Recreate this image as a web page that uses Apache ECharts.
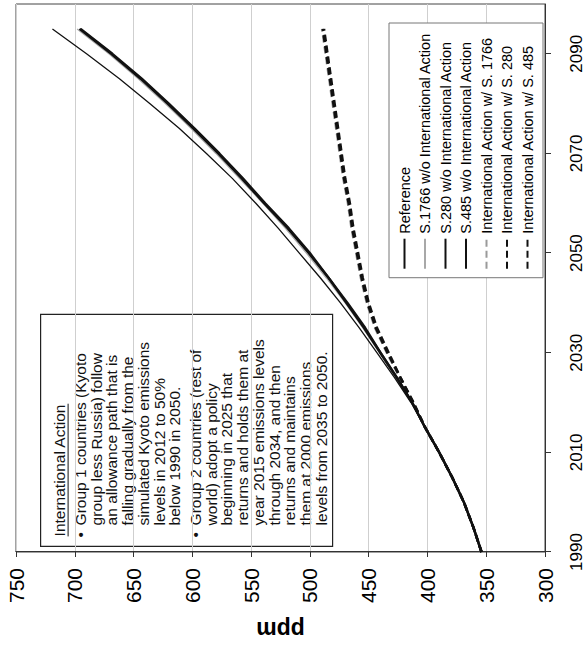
<!DOCTYPE html>
<html>
<head>
<meta charset="utf-8">
<title>CO2 concentration scenarios</title>
<script src="https://cdn.jsdelivr.net/npm/echarts@6/dist/echarts.min.js"></script>
<style>
  html, body { margin: 0; padding: 0; background: #fff; overflow: hidden; width: 585px; height: 649px; }
  /* The chart is laid out landscape and turned a quarter turn counter-clockwise onto the portrait page. */
  #chart {
    position: absolute; left: 0; top: 0;
    width: 649px; height: 585px;
    transform-origin: 0 0;
    transform: translate(0, 649px) rotate(-90deg);
  }
</style>
</head>
<body>
<div id="chart"></div>
<script>
// Atmospheric CO2 concentration (ppm), 1990-2095, five-year steps
const years = [1990, 1995, 2000, 2005, 2010, 2015, 2020, 2025, 2030, 2035, 2040,
               2045, 2050, 2055, 2060, 2065, 2070, 2075, 2080, 2085, 2090, 2095];

const reference  = [354, 361, 369, 379, 390, 402, 414, 428, 443, 458, 474,
                    491, 509, 527, 546, 566, 588, 611, 636, 662, 690, 719];
const s1766NoIntl = [354, 361, 369, 379, 390, 402, 413, 427, 441, 455, 470,
                    486, 503, 521, 540, 560, 580, 601, 623, 646, 671, 698];
const s280NoIntl  = [354, 361, 369, 379, 390, 402, 413, 426, 440, 454, 469,
                    484, 501, 519, 539, 558, 578, 599, 621, 644, 669, 696];
const s485NoIntl  = [354, 361, 369, 379, 390, 402, 413, 426, 440, 453, 468,
                    484, 500, 518, 538, 557, 577, 598, 620, 643, 668, 695];
const intlS1766   = [354, 361, 369, 379, 390, 402, 412, 424, 435, 445, 452,
                    457, 461, 465, 468, 472, 475, 478, 481, 484, 487, 490];
const intlS280    = [354, 361, 369, 379, 390, 402, 412, 423, 434, 444, 451,
                    456, 460, 464, 467, 471, 474, 477, 480, 483, 486, 489];
const intlS485    = [354, 361, 369, 379, 390, 402, 412, 423, 433, 443, 450,
                    455, 459, 463, 466, 470, 473, 476, 479, 482, 485, 488];

// Axis ranges
const yearMin = 1990, yearMax = 2100, yearStep = 20;
const ppmMin = 300, ppmMax = 750, ppmStep = 50;

const seriesNames = [
  'Reference',
  'S.1766 w/o International Action',
  'S.280 w/o International Action',
  'S.485 w/o International Action',
  'International Action w/ S. 1766',
  'International Action w/ S. 280',
  'International Action w/ S. 485'
];

const noteTitle = 'International Action';
const noteGroup1 = ['Group 1 countries (Kyoto', 'group less Russia) follow', 'an allowance path that is',
  'falling gradually from the', 'simulated Kyoto emissions', 'levels in 2012 to 50%', 'below 1990 in 2050.'];
const noteGroup2 = ['Group 2 countries (rest of', 'world) adopt a policy', 'beginning in 2025 that',
  'returns and holds them at', 'year 2015 emissions levels', 'through 2034, and then',
  'returns and maintains', 'them at 2000 emissions', 'levels from 2035 to 2050.'];

const FONT = "'Liberation Sans', Arial, Helvetica, sans-serif";

function pairs(values) {
  return years.map((y, i) => [y, values[i]]);
}

function lineSeries(name, values, color, width, type, z) {
  return {
    name: name,
    type: 'line',
    data: pairs(values),
    symbol: 'none',
    smooth: false,
    z: z,
    lineStyle: { color: color, width: width, type: type },
    itemStyle: { color: color },
    emphasis: { disabled: true }
  };
}

// width of the note title, for its underline
const measureCtx = document.createElement('canvas').getContext('2d');
const noteFontSize = 15.5;
measureCtx.font = noteFontSize + 'px ' + FONT;
const titleWidth = measureCtx.measureText(noteTitle).width;

const lineH = 15.75;
const noteChildren = [
  { type: 'rect', shape: { x: 0, y: 0, width: 232, height: 292 },
    style: { fill: '#fff', stroke: '#222', lineWidth: 1.2 } },
  { type: 'text', x: 10, y: 11,
    style: { text: noteTitle, font: noteFontSize + 'px ' + FONT, fill: '#111' } },
  { type: 'line', shape: { x1: 10, y1: 11 + noteFontSize + 1, x2: 10 + titleWidth, y2: 11 + noteFontSize + 1 },
    style: { stroke: '#111', lineWidth: 1 } },
  { type: 'text', x: 9, y: 32,
    style: { text: '\u2022', font: noteFontSize + 'px ' + FONT, fill: '#111' } },
  { type: 'text', x: 21, y: 32,
    style: { text: noteGroup1.join('\n'), font: noteFontSize + 'px ' + FONT, lineHeight: lineH, fill: '#111' } },
  { type: 'text', x: 9, y: 147,
    style: { text: '\u2022', font: noteFontSize + 'px ' + FONT, fill: '#111' } },
  { type: 'text', x: 21, y: 147,
    style: { text: noteGroup2.join('\n'), font: noteFontSize + 'px ' + FONT, lineHeight: lineH, fill: '#111' } }
];

const chart = echarts.init(document.getElementById('chart'), null, { renderer: 'svg', width: 649, height: 585 });

chart.setOption({
  animation: false,
  backgroundColor: '#fff',
  textStyle: { fontFamily: FONT, color: '#000' },
  grid: {
    left: 87, right: 4, top: 16, bottom: 37,
    show: true, borderColor: '#444', borderWidth: 1, backgroundColor: 'transparent'
  },
  xAxis: {
    type: 'value',
    min: yearMin, max: yearMax, interval: yearStep,
    axisLine: { show: true, lineStyle: { color: '#333', width: 1 } },
    axisTick: { show: true, inside: false, length: 6, lineStyle: { color: '#333' } },
    axisLabel: { fontSize: 17, color: '#000', margin: 23, fontFamily: FONT,
                 formatter: v => String(v), showMaxLabel: false },
    splitLine: { show: false }
  },
  yAxis: {
    type: 'value',
    min: ppmMin, max: ppmMax, interval: ppmStep,
    name: 'ppm',
    nameLocation: 'middle',
    nameGap: 66,
    nameTextStyle: { fontSize: 23, fontWeight: 'bold', color: '#000', fontFamily: FONT },
    axisLine: { show: true, lineStyle: { color: '#333', width: 1 } },
    axisTick: { show: true, inside: false, length: 5, lineStyle: { color: '#333' } },
    axisLabel: { fontSize: 21, color: '#000', margin: 16, fontFamily: FONT },
    splitLine: { show: true, lineStyle: { color: '#cfcfcf', width: 1 } }
  },
  legend: {
    orient: 'vertical',
    right: 23,
    bottom: 42,
    backgroundColor: '#fff',
    borderColor: '#777',
    borderWidth: 1,
    padding: [8, 10, 8, 8],
    itemWidth: 30,
    itemHeight: 12,
    itemGap: 5.5,
    selectedMode: false,
    itemStyle: { opacity: 0 },
    textStyle: { fontSize: 14.5, color: '#000', fontFamily: FONT },
    data: seriesNames
  },
  graphic: [
    { type: 'group', left: 102, top: 40, z: 100, children: noteChildren }
  ],
  series: [
    lineSeries(seriesNames[4], intlS1766, '#9a9a9a', 1.6, [7, 4], 2),
    lineSeries(seriesNames[1], s1766NoIntl, '#a8a8a8', 1.2, 'solid', 2),
    lineSeries(seriesNames[0], reference, '#111', 1.3, 'solid', 3),
    lineSeries(seriesNames[2], s280NoIntl, '#111', 2.4, 'solid', 3),
    lineSeries(seriesNames[3], s485NoIntl, '#111', 2.4, 'solid', 3),
    lineSeries(seriesNames[5], intlS280, '#111', 2.6, [7, 4], 3),
    lineSeries(seriesNames[6], intlS485, '#111', 2.6, [7, 4], 3)
  ]
});
</script>
</body>
</html>
